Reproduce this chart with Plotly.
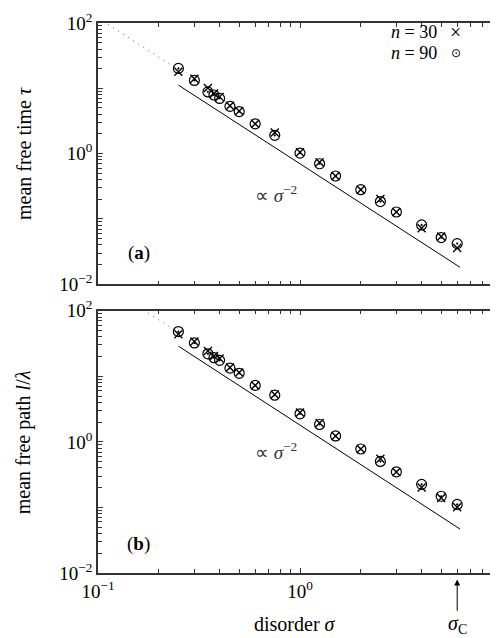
import numpy as np
import plotly.graph_objects as go

# disorder values sigma
sigma = [0.25, 0.3, 0.35, 0.375, 0.4, 0.45, 0.5, 0.6, 0.75, 1.0,
         1.25, 1.5, 2.0, 2.5, 3.0, 4.0, 5.0, 6.0]

# (a) mean free time tau
tau_n30 = [18.0, 14.0, 10.1, 8.3, 7.4, 5.4, 4.5, 2.86, 2.1, 1.05,
           0.74, 0.455, 0.281, 0.203, 0.128, 0.072, 0.054, 0.036]
tau_n90 = [20.2, 13.2, 8.8, 7.9, 7.0, 5.3, 4.4, 2.86, 1.91, 1.02,
           0.70, 0.455, 0.281, 0.185, 0.128, 0.081, 0.052, 0.042]

# (b) mean free path l/lambda
path_n30 = [43.8, 34.0, 24.2, 20.4, 18.6, 13.6, 11.4, 7.26, 5.26, 2.81,
            1.94, 1.23, 0.778, 0.551, 0.348, 0.201, 0.139, 0.101]
path_n90 = [48.1, 32.2, 22.0, 19.2, 17.5, 13.3, 11.1, 7.26, 5.15, 2.68,
            1.84, 1.23, 0.778, 0.502, 0.348, 0.225, 0.148, 0.111]

# sigma^-2 guide lines (prefactors) and the dotted extension
guide_sigma = [0.25, 6.2]
dotted_sigma = [0.1, 0.24]
guide_pref = {"a": 0.7, "b": 1.8}
dotted_pref = {"a": 1.2, "b": 2.9}
sigma_c = 6.0

FONT = "Liberation Serif, Times New Roman, serif"
BLACK = "#000000"


def power_law(xs, pref):
    xs = np.array(xs, dtype=float)
    return pref * xs ** -2


fig = go.Figure()

panels = [("a", "x", "y", tau_n30, tau_n90), ("b", "x2", "y2", path_n30, path_n90)]
for key, xa, ya, y30, y90 in panels:
    fig.add_trace(go.Scatter(x=dotted_sigma, y=power_law(dotted_sigma, dotted_pref[key]),
                             mode="lines", xaxis=xa, yaxis=ya, showlegend=False,
                             line=dict(color="#555555", width=1, dash="1px,5px")))
    fig.add_trace(go.Scatter(x=guide_sigma, y=power_law(guide_sigma, guide_pref[key]),
                             mode="lines", xaxis=xa, yaxis=ya, showlegend=False,
                             line=dict(color=BLACK, width=1)))
    fig.add_trace(go.Scatter(x=sigma, y=y30, mode="markers", xaxis=xa, yaxis=ya,
                             showlegend=False,
                             marker=dict(symbol="x-thin-open", size=8, color=BLACK,
                                         line=dict(color=BLACK, width=1.4))))
    fig.add_trace(go.Scatter(x=sigma, y=y90, mode="markers", xaxis=xa, yaxis=ya,
                             showlegend=False,
                             marker=dict(symbol="circle-open-dot", size=10, color=BLACK,
                                         line=dict(color=BLACK, width=1.2))))

x_minor = [k * 10.0 ** e for e in (-1, 0) for k in range(2, 10)]
y_minor = [k * 10.0 ** e for e in (-2, -1, 0, 1) for k in range(2, 10)]

axis_common = dict(type="log", showline=True, linecolor="#333333", linewidth=1.5,
                   mirror="ticks", ticks="inside", ticklen=5, tickcolor="#333333",
                   showgrid=False, zeroline=False,
                   tickfont=dict(family=FONT, size=19, color=BLACK))

xaxis_common = dict(axis_common, range=[-1, 1], tickvals=[0.1, 1, 10],
                    ticktext=["10<sup>−1</sup>", "10<sup>0</sup>", "10<sup>1</sup>"],
                    minor=dict(ticks="inside", ticklen=4, tickcolor="#333333",
                               tickmode="array", tickvals=x_minor, showgrid=False))
yaxis_common = dict(axis_common, range=[-2, 2], tickvals=[0.01, 0.1, 1, 10, 100],
                    ticktext=["10<sup>−2</sup>", "", "10<sup>0</sup>", "", "10<sup>2</sup>"],
                    minor=dict(ticks="inside", ticklen=4, tickcolor="#333333",
                               tickmode="array", tickvals=y_minor, showgrid=False))

fig.update_layout(
    width=498, height=638,
    margin=dict(l=90, r=2, t=3, b=73),
    paper_bgcolor="white", plot_bgcolor="white",
    font=dict(family=FONT, size=19, color=BLACK),
    xaxis=dict(xaxis_common, domain=[0, 1], anchor="y", showticklabels=False),
    yaxis=dict(yaxis_common, domain=[0.5249, 1], anchor="x"),
    xaxis2=dict(xaxis_common, domain=[0, 1], anchor="y2", matches="x"),
    yaxis2=dict(yaxis_common, domain=[0, 0.4769], anchor="x2"),
)

txt = dict(family=FONT, size=19, color=BLACK)
title_font = dict(txt, size=20)


def label(x, y, text, xanchor="center", font=txt, **kw):
    return dict(xref="paper", yref="paper", x=x, y=y, text=text, showarrow=False,
                xanchor=xanchor, yanchor="middle", font=font, **kw)


ann = [
    # panel labels
    label(0.101, 0.5819, "(<b>a</b>)"),
    label(0.101, 0.0534, "(<b>b</b>)"),
    # power law labels
    label(0.441, 0.690, "∝ <i>σ</i><sup>−2</sup>", font=dict(txt, color="#333333")),
    label(0.441, 0.2224, "∝ <i>σ</i><sup>−2</sup>", font=dict(txt, color="#333333")),
    # legend-like labels
    label(0.845, 0.983, "<i>n</i> = 30", xanchor="right", font=dict(txt, size=18)),
    label(0.886, 0.983, "×", font=dict(txt, size=20)),
    label(0.845, 0.946, "<i>n</i> = 90", xanchor="right", font=dict(txt, size=18)),
    label(0.886, 0.946, "⊙", font=dict(family="DejaVu Sans", size=12, color=BLACK)),
    # axis titles
    label(-0.1847, 0.7625, "mean free time <i>τ</i>", font=title_font, textangle=-90),
    label(-0.1847, 0.2385, "mean free path <i>l</i>/<i>λ</i>", font=title_font,
          textangle=-90),
    label(0.4877, -0.093, "disorder <i>σ</i>", font=title_font),
    # sigma_C label
    dict(xref="x2", yref="paper", x=np.log10(sigma_c), y=-0.093,
         text="<i>σ</i><sub>C</sub>", showarrow=False, xanchor="center",
         yanchor="middle", font=title_font),
    # sigma_C arrow
    dict(xref="x2", yref="y2 domain", x=np.log10(sigma_c), y=-0.025,
         axref="x2", ayref="y2 domain", ax=np.log10(sigma_c), ay=-0.15,
         text="", showarrow=True, arrowhead=2, arrowsize=1.2,
         arrowwidth=1, arrowcolor=BLACK),
]
fig.update_layout(annotations=ann)

fig.write_html("out.html")
